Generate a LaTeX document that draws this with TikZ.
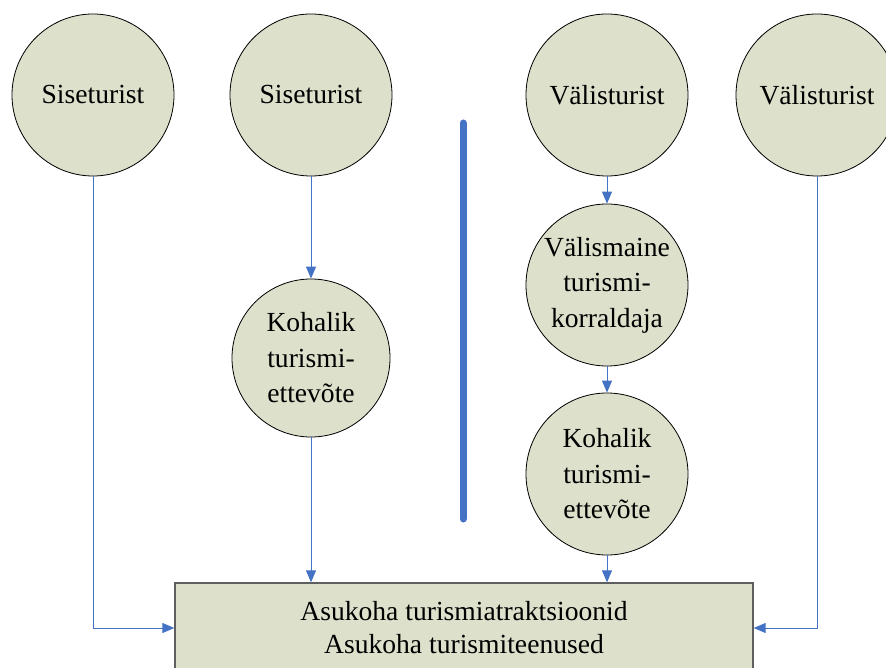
\documentclass[tikz,border=0pt]{standalone}
\usepackage{fontspec}
\setmainfont{Liberation Serif}
\usetikzlibrary{arrows.meta}
\definecolor{fillc}{RGB}{221,224,203}
\definecolor{linec}{RGB}{68,114,196}
\definecolor{boxline}{RGB}{95,95,95}
\begin{document}
\begin{tikzpicture}[x=1pt,y=-1pt,
  circ/.style={circle,draw=black,line width=0.8pt,fill=fillc,minimum size=162pt,inner sep=0pt,align=center,font=\fontsize{27.6}{35.5}\selectfont},
  boxnode/.style={rectangle,draw=boxline,line width=1.3pt,fill=fillc,minimum width=578pt,minimum height=90pt,inner sep=0pt,align=center,font=\fontsize{27.6}{33}\selectfont},
  conn/.style={draw=linec,line width=1pt,-{Triangle[length=12pt,width=10pt]}},
  divider/.style={draw=linec,line width=7pt,line cap=round}]
\useasboundingbox (0,0) rectangle (886,668);
\node[circ] (s1) at (93,95) {Siseturist};
\node[circ] (s2) at (311,95) {Siseturist};
\node[circ] (v1) at (607,95) {Välisturist};
\node[circ] (v2) at (817,95) {Välisturist};
\node[circ,minimum size=158pt] (k1) at (311,358) {Kohalik\\turismi-\\ettevõte};
\node[circ] (vm) at (607,285) {Välismaine\\turismi-\\korraldaja};
\node[circ] (k2) at (607,474) {Kohalik\\turismi-\\ettevõte};
\node[boxnode] (r) at (464,628) {Asukoha turismiatraktsioonid\\Asukoha turismiteenused};
\coordinate (t1) at (463,123);
\coordinate (t2) at (463,519);
\draw[divider] (t1) -- (t2);
\draw[conn] (s1.south) |- (r.west);
\draw[conn] (v2.south) |- (r.east);
\draw[conn] (s2.south) -- (k1.north);
\draw[conn] (k1.south) -- (k1.south |- r.north);
\draw[conn] (v1.south) -- (vm.north);
\draw[conn] (vm.south) -- (k2.north);
\draw[conn] (k2.south) -- (k2.south |- r.north);
\end{tikzpicture}
\end{document}
